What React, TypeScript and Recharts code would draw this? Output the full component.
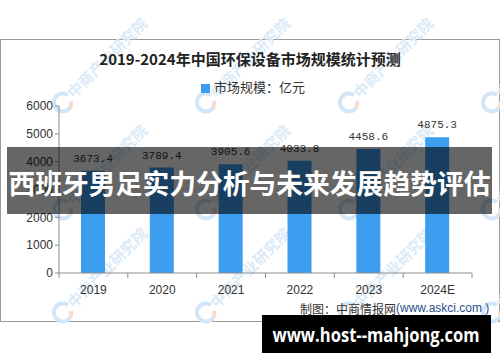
import React from 'react';
import { BarChart, Bar, XAxis, YAxis, Legend, LabelList } from 'recharts';

const categories = ['2019', '2020', '2021', '2022', '2023', '2024E'];
const marketSize = [3673.4, 3789.4, 3905.6, 4033.8, 4458.6, 4875.3];
const yTicks = [0, 1000, 2000, 3000, 4000, 5000, 6000];
const seriesName = '市场规模：亿元';
const chartTitle = '2019-2024年中国环保设备市场规模统计预测';
const bannerTitle = '西班牙男足实力分析与未来发展趋势评估';
const sourceLabel = '制图：中商情报网';
const sourceUrl = '(www.askci.com )';
const siteLabel = 'www.host--mahjong.com';
const watermarkText = '中商产业研究院';
const watermarkCols = [62, 205, 348, 491];
const watermarkRows = [103, 210, 313];

const data = categories.map((c, i) => ({ year: c, value: marketSize[i] }));

const BAR = '#3d9ef0';
const AXIS = '#8c8c8c';
const CJK = '"Noto Sans CJK SC", "Liberation Sans", sans-serif';

const XTick = (props: any) => {
  const { x, y, payload, index, visibleTicksCount } = props;
  const off = payload && payload.offset ? payload.offset : 34.4;
  const last = index === (visibleTicksCount ? visibleTicksCount - 1 : categories.length - 1);
  return (
    <g>
      <line x1={x - off} x2={x - off} y1={y} y2={y + 5} stroke={AXIS} />
      {last && <line x1={x + off} x2={x + off} y1={y} y2={y + 5} stroke={AXIS} />}
      <text x={x} y={y + 17} textAnchor="middle" dominantBaseline="central" fill="#333" fontSize={12} fontFamily='"Liberation Sans", sans-serif'>
        {payload.value}
      </text>
    </g>
  );
};

const Watermarks = () => (
  <svg width={500} height={362} style={{ position: 'absolute', left: 0, top: 0 }}>
    {watermarkRows.map((wy) =>
      watermarkCols.map((wx) => (
        <g key={`${wx}-${wy}`}>
          <path d={`M ${wx + 6} ${wy - 8} A 9 9 0 1 0 ${wx + 8} ${wy + 5}`} stroke="#d3e6f7" strokeWidth={4} fill="none" />
          <path d={`M ${wx + 8} ${wy + 5} A 9 9 0 0 0 ${wx + 9} ${wy - 2}`} stroke="#f7dccf" strokeWidth={4} fill="none" />
          <text
            x={wx + 12}
            y={wy - 4}
            transform={`rotate(-45 ${wx + 12} ${wy - 4})`}
            fill="#dbeaf7"
            fontSize={15}
            fontWeight={700}
            fontFamily={CJK}
          >
            {watermarkText}
          </text>
        </g>
      ))
    )}
  </svg>
);

export default function App() {
  return (
    <div style={{ position: 'absolute', left: 0, top: 0, width: 500, height: 362, background: '#fff', fontFamily: CJK, overflow: 'hidden' }}>
      <svg width={500} height={362} style={{ position: 'absolute', left: 0, top: 0 }}>
        <rect x={0.5} y={39.5} width={499} height={282} fill="#fff" stroke="#9a9a9a" />
      </svg>
      <Watermarks />
      <div style={{ position: 'absolute', left: 0, top: 0 }}>
        <BarChart width={500} height={362} data={data} margin={{ top: 87, right: 28, bottom: 59, left: 9 }}>
          <XAxis
            dataKey="year"
            height={30}
            tickLine={false}
            tickSize={0}
            tickMargin={0}
            axisLine={{ stroke: AXIS }}
            tick={<XTick />}
            interval={0}
          />
          <YAxis
            width={50}
            domain={[0, 6000]}
            ticks={yTicks}
            tickSize={4}
            tickMargin={2}
            axisLine={{ stroke: AXIS }}
            tickLine={{ stroke: AXIS }}
            tick={{ fill: '#333', fontSize: 12, fontFamily: '"Liberation Sans", sans-serif' }}
          />
          <Legend
            verticalAlign="top"
            align="center"
            iconType="square"
            iconSize={9}
            wrapperStyle={{ top: 77, left: 8, width: 500, fontSize: 13, fontFamily: CJK }}
            formatter={(v: string) => <span style={{ color: '#333' }}>{v}</span>}
          />
          <Bar dataKey="value" name={seriesName} fill={BAR} barSize={24} isAnimationActive={false}>
            <LabelList
              dataKey="value"
              position="top"
              offset={9}
              formatter={(v: number) => v.toFixed(1)}
              style={{ fill: '#333', fontSize: 11, fontFamily: '"Liberation Mono", monospace' }}
            />
          </Bar>
        </BarChart>
      </div>
      <svg width={500} height={362} style={{ position: 'absolute', left: 0, top: 0 }}>
        <text x={250} y={58} textAnchor="middle" dominantBaseline="central" fontSize={15} fontWeight={700} fill="#222" fontFamily={CJK}>
          {chartTitle}
        </text>
        <text x={300} y={308} dominantBaseline="central" fontSize={12} fill="#333" fontFamily={CJK}>
          {sourceLabel}
          <tspan fill="#2b4f8a" fontFamily='"Liberation Sans", sans-serif'>{sourceUrl}</tspan>
        </text>
        <rect x={7} y={147} width={485} height={67} fill="rgba(0,0,0,0.6)" />
        <text x={249.5} y={182} textAnchor="middle" dominantBaseline="central" fontSize={27} fontWeight={700} fill="#fff" fontFamily={CJK} textLength={482} lengthAdjust="spacingAndGlyphs">
          {bannerTitle}
        </text>
        <rect x={262} y={315} width={229} height={38} fill="#000" />
        <text x={376} y={335} textAnchor="middle" dominantBaseline="central" fontSize={19} fontWeight={700} fill="#fff" fontFamily='"Open Sans", "DejaVu Sans", sans-serif' textLength={207} lengthAdjust="spacingAndGlyphs">
          {siteLabel}
        </text>
      </svg>
    </div>
  );
}
